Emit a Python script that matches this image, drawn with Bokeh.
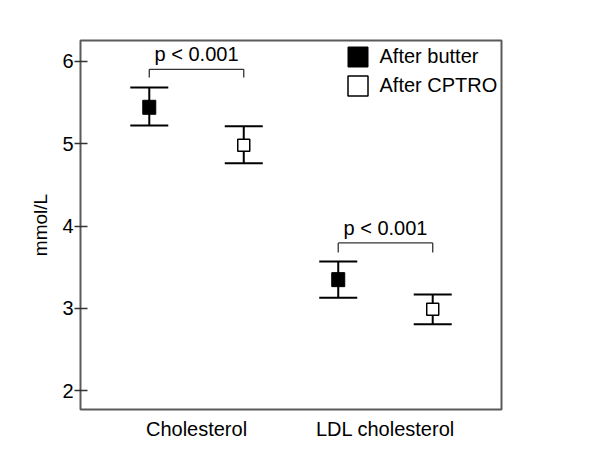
from bokeh.plotting import figure
from bokeh.models import ColumnDataSource, FactorRange, Range1d, FixedTicker, Legend, LegendItem
from bokeh.transform import dodge
from bokeh.core.properties import value
from bokeh.embed import file_html
from bokeh.resources import INLINE

# ---- data ----
categories = ["Cholesterol", "LDL cholesterol"]
butter_mean = [5.44, 3.35]
butter_lower = [5.22, 3.13]
butter_upper = [5.68, 3.57]
cptro_mean = [4.98, 2.99]
cptro_lower = [4.76, 2.81]
cptro_upper = [5.21, 3.17]
bracket_top = [5.90, 3.795]
bracket_end = [5.80, 3.68]
p_labels = ["p < 0.001", "p < 0.001"]
y_ticks = [2, 3, 4, 5, 6]

FONT = "Liberation Sans"
FS = "20px"

butter = ColumnDataSource(dict(cat=categories, mean=butter_mean, lower=butter_lower, upper=butter_upper))
cptro = ColumnDataSource(dict(cat=categories, mean=cptro_mean, lower=cptro_lower, upper=cptro_upper))
brk = ColumnDataSource(dict(cat=categories, top=bracket_top, end=bracket_end, label=p_labels))

p = figure(width=592, height=442, output_backend="svg", toolbar_location=None,
           x_range=FactorRange(factors=categories, range_padding=0.114, range_padding_units="absolute"),
           y_range=Range1d(1.775, 6.25),
           min_border_left=80, min_border_right=91, min_border_top=40, min_border_bottom=30)

p.xgrid.visible = False
p.ygrid.visible = False
p.outline_line_color = "#5a5a5a"
p.outline_line_width = 2
p.background_fill_color = "white"
p.border_fill_color = "white"

# axes
p.xaxis.axis_line_color = None
p.xaxis.major_tick_line_color = None
p.xaxis.minor_tick_line_color = None
p.xaxis.major_label_text_font = FONT
p.xaxis.major_label_text_font_size = FS
p.xaxis.major_label_text_color = "black"
p.xaxis.major_label_standoff = 2

p.yaxis.ticker = FixedTicker(ticks=y_ticks)
p.yaxis.axis_line_color = None
p.yaxis.major_tick_in = 7
p.yaxis.major_tick_out = 6
p.yaxis.major_tick_line_color = "#333333"
p.yaxis.major_tick_line_width = 1.5
p.yaxis.minor_tick_line_color = None
p.yaxis.major_label_text_font = FONT
p.yaxis.major_label_text_font_size = FS
p.yaxis.major_label_text_color = "black"
p.yaxis.major_label_standoff = 1
p.yaxis.axis_label = "mmol/L"
p.yaxis.axis_label_text_font = FONT
p.yaxis.axis_label_text_font_size = "19px"
p.yaxis.axis_label_text_font_style = "normal"
p.yaxis.axis_label_text_color = "black"
p.yaxis.axis_label_standoff = 8

def draw_series(src, off, fill, w, h, lw):
    dx = dodge("cat", off, range=p.x_range)
    p.segment(x0=dx, y0="lower", x1=dx, y1="upper", source=src, line_color="black", line_width=2)
    p.scatter(x=dx, y="upper", source=src, marker="dash", size=38, line_color="black", line_width=2)
    p.scatter(x=dx, y="lower", source=src, marker="dash", size=38, line_color="black", line_width=2)
    r = p.rect(x=dx, y="mean", width=w, height=h, width_units="screen", height_units="screen",
               source=src, fill_color=fill, line_color="black", line_width=lw)
    return r

r_b = draw_series(butter, -0.25, "black", 13, 14, 1)
r_c = draw_series(cptro, 0.25, "white", 12, 12, 1.5)

# brackets
dl = dodge("cat", -0.25, range=p.x_range)
dr = dodge("cat", 0.25, range=p.x_range)
p.segment(x0=dl, y0="top", x1=dr, y1="top", source=brk, line_color="#333333", line_width=1.3)
p.segment(x0=dl, y0="top", x1=dl, y1="end", source=brk, line_color="#333333", line_width=1.3)
p.segment(x0=dr, y0="top", x1=dr, y1="end", source=brk, line_color="#333333", line_width=1.3)
p.text(x="cat", y="top", text="label", source=brk, text_align="center", text_baseline="bottom",
       y_offset=-4, text_font=value(FONT), text_font_size=FS, text_color="black")

legend = Legend(items=[LegendItem(label="After butter", renderers=[r_b]),
                       LegendItem(label="After CPTRO", renderers=[r_c])],
                location=(264.5, 311.5), margin=0, padding=0, spacing=4,
                glyph_width=25, glyph_height=25, label_standoff=10,
                label_text_font=FONT, label_text_font_size=FS, label_text_color="black",
                border_line_color=None, background_fill_alpha=0)
p.add_layout(legend)

open("out.html", "w").write(file_html(p, INLINE))
